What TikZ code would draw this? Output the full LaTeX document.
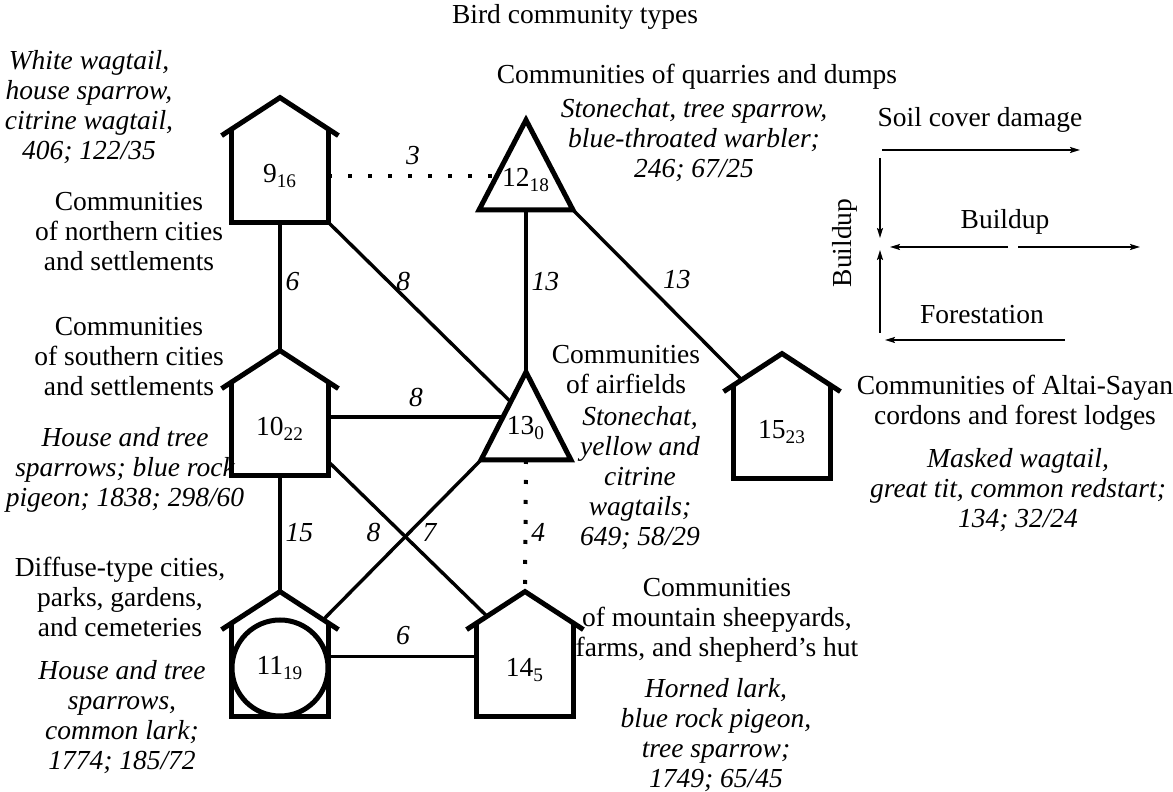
\documentclass[tikz,border=0pt]{standalone}
\usepackage{fontspec}
\setmainfont{Liberation Serif}
\usetikzlibrary{arrows.meta,calc,positioning}
\tikzstyle{body} = [rectangle, minimum width=48pt, minimum height=46pt, inner sep=0pt]
\tikzstyle{ring} = [circle, draw, line width=2.5pt, minimum size=48pt, inner sep=0pt]
\tikzstyle{tag} = [inner sep=0pt]
\tikzstyle{wall} = [line width=2.5pt]
\tikzstyle{edge} = [line width=1.7pt]
\tikzstyle{dots} = [line width=2pt, dash pattern=on 2pt off 8pt]
\tikzstyle{weight} = [font=\itshape, inner sep=2pt]
\tikzstyle{txt} = [align=center, inner sep=0pt]
\tikzstyle{birds} = [txt, font=\itshape]
\tikzstyle{legend} = [line width=0.85pt, -{Stealth[length=5pt, width=3pt, inset=1pt]}]
% walls and roof of a house node
\newcommand{\drawhouse}[1]{%
  \draw [wall] (#1.north west) -- (#1.south west) -- (#1.south east) -- (#1.north east);
  \draw [wall] ($(#1.north west)+(-10,-6)$) coordinate (#1 eaveL)
    -- ($(#1.north)+(0,32)$) coordinate (#1 apex)
    -- ($(#1.north east)+(10,-6)$) coordinate (#1 eaveR);
}
\begin{document}
\fontsize{13.75}{15}\selectfont
\begin{tikzpicture}[x=0.5pt, y=0.5pt]
  \useasboundingbox (0,0) rectangle (1173,792);
  % Place nodes
  \node [body] (h9) at (280,616) {9\textsubscript{16}};
  \node [body] (h10) at (280,363) {10\textsubscript{22}};
  \node [body] (h11) at (280,122) {};
  \node [body] (h14) at (525,122) {14\textsubscript{5}};
  \node [body] (h15) at (782,360) {15\textsubscript{23}};
  \node [ring] (c11) at (280,124) {11\textsubscript{19}};
  \node [tag] (t12) at (526,612) {12\textsubscript{18}};
  \node [tag] (t13) at (526,364) {13\textsubscript{0}};
  % Draw houses
  \drawhouse{h9}
  \drawhouse{h10}
  \drawhouse{h11}
  \drawhouse{h14}
  \drawhouse{h15}
  % Draw triangles
  \draw [wall] (526,672) coordinate (t12 apex) -- (479,582) coordinate (t12 left)
    -- (573,582) coordinate (t12 right) -- cycle;
  \draw [wall] (526,420) coordinate (t13 apex) -- (481,332) coordinate (t13 left)
    -- (571,332) coordinate (t13 right) -- cycle;
  \coordinate (t12 base) at ($(t12 left)!0.5!(t12 right)$);
  \coordinate (t13 base) at ($(t13 left)!0.5!(t13 right)$);
  \coordinate (t12 side) at ($(t12 apex)!0.6!(t12 left)$);
  \coordinate (t13 side) at ($(t13 apex)!0.5!(t13 left)$);
  % Draw edges
  \draw [dots] (h9.east) -- node[weight, above=2.5pt] {3} (h9.east -| t12 side);
  \draw [edge] (h9.south) -- node[weight, pos=0.46, right] {6} (h10 apex);
  \draw [edge] (h9.south east) -- node[weight, pos=0.33, right=1pt] {8}
    ($(t13 apex)!0.34!(t13 left)$);
  \draw [edge] (t12 base) -- node[weight, pos=0.44, right] {13} (t13 apex);
  \draw [edge] (t12 right) -- node[weight, pos=0.5, above right=0pt] {13}
    ($(h15 eaveL)!0.31!(h15 apex)$);
  \draw [edge] (h10.14) -- node[weight, above=2pt] {8} (h10.14 -| t13 side);
  \draw [edge] (h10.south) -- node[weight, pos=0.49, right] {15} (h11 apex);
  \draw [edge] (h10.-34) -- node[weight, pos=0.46, xshift=14pt] {7}
    ($(h14 eaveL)!0.35!(h14 apex)$);
  \draw [edge] ($(h11 apex)!0.74!(h11 eaveR)$) -- node[weight, pos=0.547, xshift=-18pt] {8}
    (t13 left);
  \draw [dots] (t13 base) -- node[weight, pos=0.55, right] {4} (h14 apex);
  \draw [edge] (c11.13) -- node[weight, above=3pt] {6} (c11.13 -| h14.west);
  % Place texts
  \node [txt] (title) at (575,775) {Bird community types};
  \node [birds] (sp9) at (89,685) {White wagtail,\\house sparrow,\\citrine wagtail,\\406; 122/35};
  \node [txt] (ty9) at (129,560) {Communities\\of northern cities\\and settlements};
  \node [txt] (ty10) at (129,435) {Communities\\of southern cities\\and settlements};
  \node [birds] (sp10) at (125,322) {House and tree\\sparrows; blue rock\\pigeon; 1838; 298/60};
  \node [txt] (ty11) at (120,195) {Diffuse-type cities,\\parks, gardens,\\and cemeteries};
  \node [birds] (sp11) at (122,75) {House and tree\\sparrows,\\common lark;\\1774; 185/72};
  \node [txt] (ty12) at (697,715) {Communities of quarries and dumps};
  \node [birds] (sp12) at (694,652) {Stonechat, tree sparrow,\\blue-throated warbler;\\246; 67/25};
  \node [txt] (ty13) at (626,422) {Communities\\of airfields};
  \node [birds] (sp13) at (640,314) {Stonechat,\\yellow and\\citrine\\wagtails;\\649; 58/29};
  \node [txt] (ty14) at (717,172) {Communities\\of mountain sheepyards,\\farms, and shepherd’s hut};
  \node [birds] (sp14) at (716,57) {Horned lark,\\blue rock pigeon,\\tree sparrow;\\1749; 65/45};
  \node [txt] (ty15) at (1015,389) {Communities of Altai-Sayan\\cordons and forest lodges};
  \node [birds] (sp15) at (1018,302) {Masked wagtail,\\great tit, common redstart;\\134; 32/24};
  % Legend
  \node [txt] (soil) at (980,672) {Soil cover damage};
  \node [txt, rotate=90] (bupv) at (845,549) {Buildup};
  \node [txt] (buph) at (1005,570) {Buildup};
  \node [txt] (forest) at (982,477) {Forestation};
  \coordinate (soil0) at (882,642);
  \coordinate (soil1) at (1080,642);
  \coordinate (down0) at (880,634);
  \coordinate (down1) at (880,554);
  \coordinate (mid) at (1013,545);
  \coordinate (left1) at (890,545);
  \coordinate (right1) at (1140,545);
  \coordinate (up0) at (880,459);
  \coordinate (up1) at (880,542);
  \coordinate (forest0) at (1065,452);
  \coordinate (forest1) at (885,452);
  \draw [legend] (soil0) -- (soil1);
  \draw [legend] (down0) -- (down1);
  \draw [legend] ([xshift=-2.5pt]mid) -- (left1);
  \draw [legend] ([xshift=2.5pt]mid) -- (right1);
  \draw [legend] (up0) -- (up1);
  \draw [legend] (forest0) -- (forest1);
\end{tikzpicture}
\end{document}
